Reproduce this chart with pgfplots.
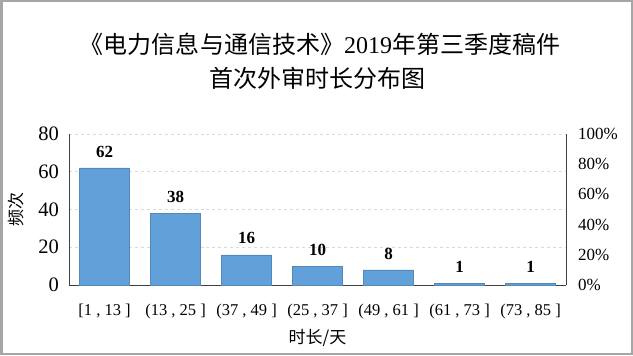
\documentclass[border=0pt]{standalone}
\usepackage{pgfplots}
\pgfplotsset{compat=1.18}
\usepackage{fontspec}
\setmainfont{Liberation Serif}
\newfontfamily\cjk{Noto Sans CJK SC}
\definecolor{barblue}{HTML}{62A0DA}
\definecolor{gridgray}{HTML}{D9D9D9}
\definecolor{framegray}{HTML}{A6A6A6}
\definecolor{axisgray}{HTML}{404040}
\begin{document}
\begin{tikzpicture}[x=1bp,y=1bp]
\draw[framegray, line width=2.5bp] (1.25,1.25) rectangle (631.75,353.75);
\node[anchor=center, inner sep=0] at (320,311) {\fontsize{24bp}{28bp}\selectfont{\cjk 《电力信息与通信技术》}2019{\cjk 年第三季度稿件}};
\node[anchor=center, inner sep=0] at (317,276.5) {\fontsize{24bp}{28bp}\selectfont\cjk 首次外审时长分布图};
\begin{axis}[
  at={(69bp,70bp)}, anchor=south west,
  scale only axis, width=497bp, height=151bp,
  xmin=-0.5, xmax=6.5, ymin=0, ymax=80,
  ytick={0,20,40,60,80},
  xtick=data,
  xticklabels={{[1 , 13 ]},{(13 , 25 ]},{(37 , 49 ]},{(25 , 37 ]},{(49 , 61 ]},{(61 , 73 ]},{(73 , 85 ]}},
  axis x line*=bottom, axis y line*=left,
  axis line style={-, axisgray, line width=0.9bp},
  major tick length=0pt,
  ymajorgrids, grid style={dashed, gridgray, line width=0.8bp},
  /pgf/number format/assume math mode=true,
  yticklabel style={font=\fontsize{20.5bp}{22bp}\selectfont, inner sep=0pt, anchor=east, xshift=-10bp},
  xticklabel style={font=\fontsize{16.5bp}{18bp}\selectfont, inner sep=0pt, anchor=base, yshift=-30bp},
  ylabel={\cjk 频次},
  ylabel style={font=\fontsize{17bp}{19bp}\selectfont, at={(axis description cs:-0.1056,0.5)}, anchor=center},
  xlabel={\cjk 时长/天},
  xlabel style={font=\fontsize{17bp}{19bp}\selectfont, at={(axis description cs:0.5,-0.351)}, anchor=center},
  ybar, bar width=50bp, bar shift=0pt,
  nodes near coords,
  every node near coord/.append style={font=\bfseries\fontsize{17bp}{19bp}\selectfont, inner sep=0pt, anchor=south, yshift=10.5bp, text=black},
]
\addplot[fill=barblue, draw=barblue!85!black, line width=0.4bp] coordinates {(0,62) (1,38) (2,16) (3,10) (4,8) (5,1) (6,1)};
\end{axis}
\begin{axis}[
  at={(69bp,70bp)}, anchor=south west,
  scale only axis, width=497bp, height=151bp,
  xmin=-0.5, xmax=6.5, ymin=0, ymax=100,
  ytick={0,20,40,60,80,100},
  axis x line=none, axis y line*=right,
  axis line style={-, axisgray, line width=0.9bp},
  major tick length=0pt,
  /pgf/number format/assume math mode=true,
  yticklabel={\pgfmathprintnumber{\tick}\%},
  yticklabel style={font=\fontsize{17bp}{19bp}\selectfont, inner sep=0pt, anchor=west, xshift=12bp},
]
\end{axis}
\end{tikzpicture}
\end{document}
